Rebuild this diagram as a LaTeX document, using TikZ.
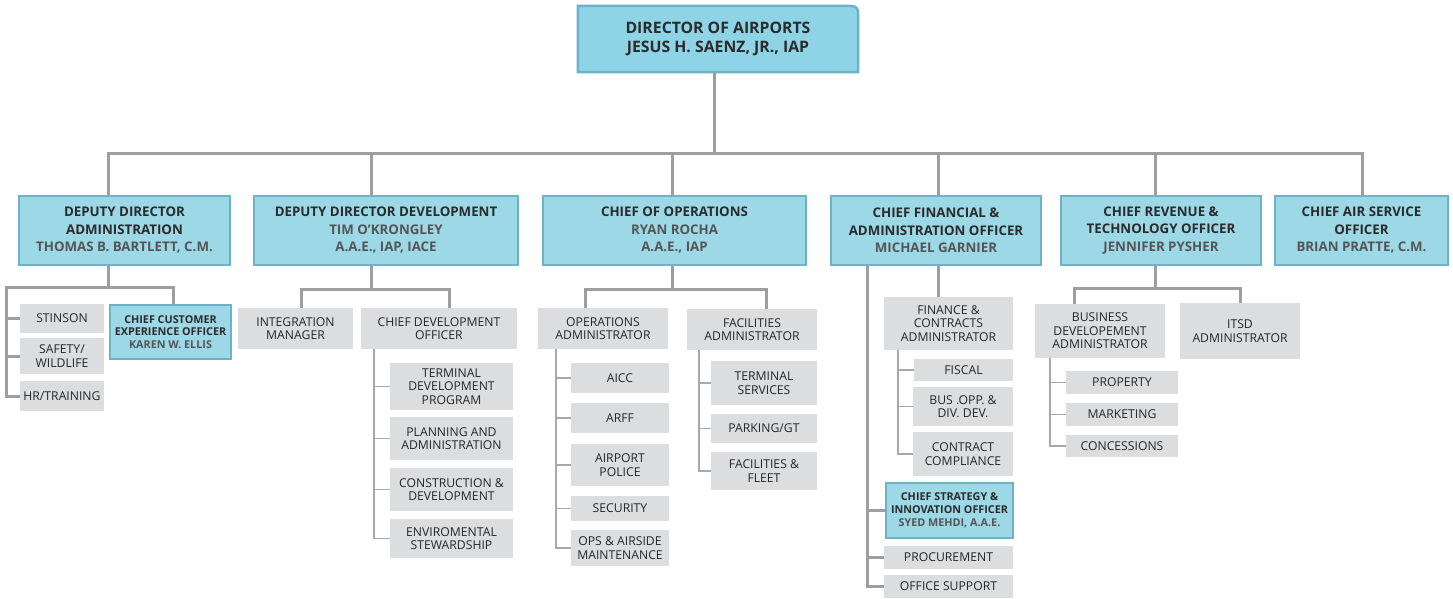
\documentclass[tikz,border=0pt]{standalone}
\usepackage{fontspec}
\setmainfont{Open Sans}
\usetikzlibrary{backgrounds}
\definecolor{bfill}{HTML}{9DD8E7}
\definecolor{tfill}{HTML}{8ED4E6}
\definecolor{bborder}{HTML}{6CB2C9}
\definecolor{gfill}{HTML}{DCDDDF}
\definecolor{headc}{HTML}{2B2B2B}
\definecolor{namec}{HTML}{555555}
\definecolor{gtext}{HTML}{262626}
\definecolor{lcol}{HTML}{9E9E9E}
\definecolor{lcol2}{HTML}{A8A8A8}
\begin{document}
\begin{tikzpicture}[x=1pt,y=-1pt,
  bluebox/.style={draw=bborder, fill=bfill, line width=2.5pt, align=center, inner sep=0pt,
    font=\fontsize{13.3}{17.5}\selectfont\bfseries, text=headc},
  smallblue/.style={bluebox, font=\fontsize{10.8}{12.8}\selectfont\bfseries},
  gbox/.style={fill=gfill, align=center, inner sep=0pt, font=\fontsize{12.2}{13.5}\selectfont, text=gtext},
  mainline/.style={draw=lcol, line width=3pt},
  subline/.style={draw=lcol2, line width=1.8pt}]
\useasboundingbox (0,0) rectangle (1453,598);
\newcommand\who[1]{{\color{namec}#1}}
% top
\node[minimum width=280pt, minimum height=66pt, inner sep=0pt, align=center,
  font=\fontsize{15.8}{19}\selectfont\bfseries, text=headc] (top) at (718,39)
  {DIRECTOR OF AIRPORTS\\JESUS H. SAENZ, JR., IAP};
% second level
\node[bluebox, minimum width=211pt, minimum height=69pt] (adm) at (124.5,230.5)
  {DEPUTY DIRECTOR\\ADMINISTRATION\\\who{THOMAS B. BARTLETT, C.M.}};
\node[bluebox, minimum width=264pt, minimum height=69pt] (dev) at (386,230.5)
  {DEPUTY DIRECTOR DEVELOPMENT\\\who{TIM O’KRONGLEY}\\\who{A.A.E., IAP, IACE}};
\node[bluebox, minimum width=263pt, minimum height=69pt] (ops) at (674.5,230.5)
  {CHIEF OF OPERATIONS\\\who{RYAN ROCHA}\\\who{A.A.E., IAP}};
\node[bluebox, minimum width=210pt, minimum height=69pt] (fin) at (936,230.5)
  {CHIEF FINANCIAL \&\\ADMINISTRATION OFFICER\\\who{MICHAEL GARNIER}};
\node[bluebox, minimum width=200pt, minimum height=69pt] (rev) at (1161,230.5)
  {CHIEF REVENUE \&\\TECHNOLOGY OFFICER\\\who{JENNIFER PYSHER}};
\node[bluebox, minimum width=173pt, minimum height=69pt] (air) at (1361.5,230.5)
  {CHIEF AIR SERVICE\\OFFICER\\\who{BRIAN PRATTE, C.M.}};
% admin branch
\node[gbox, minimum width=84pt, minimum height=29pt] (stin) at (62,318.5) {STINSON};
\node[gbox, minimum width=84pt, minimum height=36pt] (safe) at (62,356) {SAFETY/\\WILDLIFE};
\node[gbox, minimum width=84pt, minimum height=30pt] (hr) at (62,396) {HR/TRAINING};
\node[smallblue, minimum width=121pt, minimum height=54pt] (cco) at (170.5,332)
  {CHIEF CUSTOMER\\EXPERIENCE OFFICER\\\who{KAREN W. ELLIS}};
% development branch
\node[gbox, minimum width=115pt, minimum height=41pt] (integ) at (295.5,328.5) {INTEGRATION\\MANAGER};
\node[gbox, minimum width=156pt, minimum height=41pt] (cdo) at (439,328.5) {CHIEF DEVELOPMENT\\OFFICER};
\node[gbox, minimum width=123pt, minimum height=47pt] (tdp) at (451.5,386.5) {TERMINAL\\DEVELOPMENT\\PROGRAM};
\node[gbox, minimum width=123pt, minimum height=43pt] (pla) at (451.5,438.5) {PLANNING AND\\ADMINISTRATION};
\node[gbox, minimum width=123pt, minimum height=43pt] (con) at (451.5,489.5) {CONSTRUCTION \&\\DEVELOPMENT};
\node[gbox, minimum width=123pt, minimum height=39pt] (env) at (451.5,538.5) {ENVIROMENTAL\\STEWARDSHIP};
% operations branch
\node[gbox, minimum width=130pt, minimum height=41pt] (opa) at (603,328.5) {OPERATIONS\\ADMINISTRATOR};
\node[gbox, minimum width=130pt, minimum height=41pt] (faa) at (752,329.5) {FACILITIES\\ADMINISTRATOR};
\node[gbox, minimum width=98pt, minimum height=30pt] (aicc) at (620,378) {AICC};
\node[gbox, minimum width=98pt, minimum height=30pt] (arff) at (620,418) {ARFF};
\node[gbox, minimum width=98pt, minimum height=42pt] (pol) at (620,465) {AIRPORT\\POLICE};
\node[gbox, minimum width=98pt, minimum height=25pt] (sec) at (620,508.5) {SECURITY};
\node[gbox, minimum width=98pt, minimum height=36pt] (oam) at (620,548) {OPS \& AIRSIDE\\MAINTENANCE};
\node[gbox, minimum width=106pt, minimum height=44pt] (tsv) at (764,383) {TERMINAL\\SERVICES};
\node[gbox, minimum width=106pt, minimum height=29pt] (park) at (764,428.5) {PARKING/GT};
\node[gbox, minimum width=106pt, minimum height=38pt] (flt) at (764,471) {FACILITIES \&\\FLEET};
% finance branch
\node[gbox, minimum width=129pt, minimum height=53pt] (fca) at (948.5,323.5) {FINANCE \&\\CONTRACTS\\ADMINISTRATOR};
\node[gbox, minimum width=99pt, minimum height=22pt] (fis) at (963.5,370) {FISCAL};
\node[gbox, minimum width=100pt, minimum height=39pt] (bus) at (963,406.5) {BUS .OPP. \&\\DIV. DEV.};
\node[gbox, minimum width=100pt, minimum height=44pt] (cmp) at (963,454) {CONTRACT\\COMPLIANCE};
\node[smallblue, minimum width=127pt, minimum height=55pt] (csio) at (949.5,510.5)
  {CHIEF STRATEGY \&\\INNOVATION OFFICER\\\who{SYED MEHDI, A.A.E.}};
\node[gbox, minimum width=129pt, minimum height=23pt] (proc) at (948.5,557.5) {PROCUREMENT};
\node[gbox, minimum width=129pt, minimum height=23pt] (ofs) at (948.5,586.5) {OFFICE SUPPORT};
% revenue branch
\node[gbox, minimum width=130pt, minimum height=54pt] (bda) at (1100,331) {BUSINESS\\DEVELOPEMENT\\ADMINISTRATOR};
\node[gbox, minimum width=120pt, minimum height=56pt] (itsd) at (1240,331) {ITSD\\ADMINISTRATOR};
\node[gbox, minimum width=112pt, minimum height=23pt] (prop) at (1122,382.5) {PROPERTY};
\node[gbox, minimum width=112pt, minimum height=23pt] (mkt) at (1122,414.5) {MARKETING};
\node[gbox, minimum width=112pt, minimum height=22pt] (cons) at (1122,446) {CONCESSIONS};

\begin{scope}[on background layer]
  \filldraw[fill=tfill, draw=bborder, line width=2.5pt]
    (top.south west) -- (top.north west) -- ([xshift=-15pt]top.north east)
    .. controls (top.north east) .. ([yshift=-15pt]top.north east) -- (top.south east) -- cycle;
  % main bus
  \coordinate (bt) at (714,153);
  \coordinate (b1) at (108,153);
  \coordinate (b2) at (371,153);
  \coordinate (b3) at (672,153);
  \coordinate (b4) at (938,153);
  \coordinate (b5) at (1155,153);
  \coordinate (b6) at (1362,153);
  \draw[mainline] (bt |- top.south) -- (bt);
  \draw[mainline, line cap=rect] (b1) -- (b6);
  \foreach \b/\n in {b1/adm,b2/dev,b3/ops,b4/fin,b5/rev,b6/air}
    \draw[mainline] (\b) -- (\b |- \n.north);
  % admin
  \coordinate (a0) at (108,287);
  \coordinate (al) at (6,287);
  \coordinate (ar) at (173,287);
  \draw[mainline] (a0 |- adm.south) -- (a0);
  \draw[mainline] (ar |- cco.north) -- (ar) -- (al) -- (al |- hr.west) -- (hr.west);
  \draw[mainline] (al |- stin.west) -- (stin.west);
  \draw[mainline] (al |- safe.west) -- (safe.west);
  % development
  \coordinate (d0) at (371,289);
  \coordinate (dl) at (301,289);
  \coordinate (dr) at (449,289);
  \draw[mainline] (d0 |- dev.south) -- (d0);
  \draw[mainline] (dl |- integ.north) -- (dl) -- (dr) -- (dr |- cdo.north);
  \coordinate (dv) at (374,0);
  \draw[subline] (dv |- cdo.south) -- (dv |- env.west) -- (env.west);
  \foreach \n in {tdp,pla,con} \draw[subline] (dv |- \n.west) -- (\n.west);
  % operations
  \coordinate (o0) at (672,289);
  \coordinate (ol) at (585,289);
  \coordinate (or) at (766,289);
  \draw[mainline] (o0 |- ops.south) -- (o0);
  \draw[mainline] (ol |- opa.north) -- (ol) -- (or) -- (or |- faa.north);
  \coordinate (ov) at (556,0);
  \draw[subline] (ov |- opa.south) -- (ov |- oam.west) -- (oam.west);
  \foreach \n in {aicc,arff,pol,sec} \draw[subline] (ov |- \n.west) -- (\n.west);
  \coordinate (fv) at (699,0);
  \draw[subline] (fv |- faa.south) -- (fv |- flt.west) -- (flt.west);
  \foreach \n in {tsv,park} \draw[subline] (fv |- \n.west) -- (\n.west);
  % finance
  \coordinate (f0) at (938,0);
  \draw[mainline] (f0 |- fin.south) -- (f0 |- fca.north);
  \coordinate (fl) at (867,0);
  \draw[mainline] (fl |- fin.south) -- (fl |- ofs.west) -- (ofs.west);
  \foreach \n in {csio,proc} \draw[mainline] (fl |- \n.west) -- (\n.west);
  \coordinate (fs) at (898,0);
  \draw[subline] (fs |- fca.south) -- (fs |- cmp.west) -- (cmp.west);
  \foreach \n in {fis,bus} \draw[subline] (fs |- \n.west) -- (\n.west);
  % revenue
  \coordinate (r0) at (1155,288);
  \coordinate (rl) at (1074,288);
  \coordinate (rr) at (1240,288);
  \draw[mainline] (r0 |- rev.south) -- (r0);
  \draw[mainline] (rl |- bda.north) -- (rl) -- (rr) -- (rr |- itsd.north);
  \coordinate (rv) at (1050,0);
  \draw[subline] (rv |- bda.south) -- (rv |- cons.west) -- (cons.west);
  \foreach \n in {prop,mkt} \draw[subline] (rv |- \n.west) -- (\n.west);
\end{scope}
\end{tikzpicture}
\end{document}
